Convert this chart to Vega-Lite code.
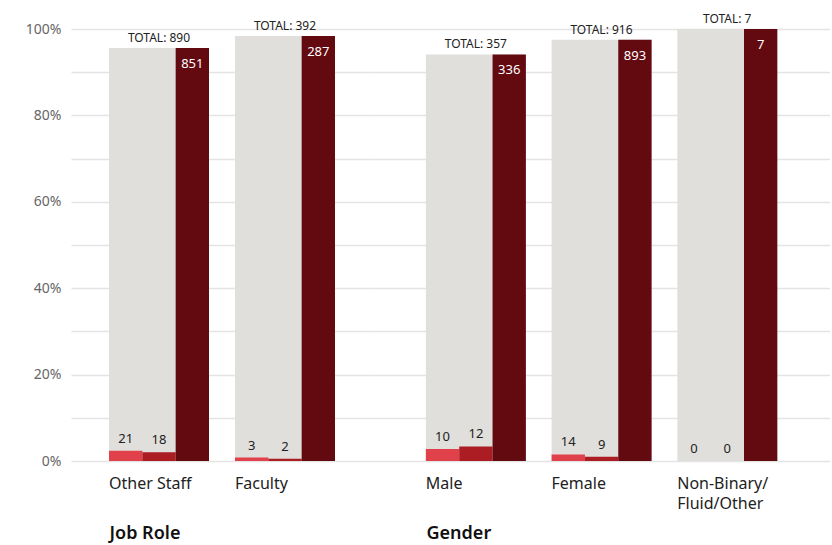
{
  "$schema": "https://vega.github.io/schema/vega-lite/v6.json",
  "padding": {"left": 25, "top": 13, "right": 0, "bottom": 5},
  "spacing": 0,
  "config": {
    "font": "Noto Sans",
    "view": {"stroke": null},
    "axis": {"gridColor": "#e4e4e4", "gridWidth": 1.5, "domain": false, "ticks": false, "tickSize": 0}
  },
  "datasets": {
    "bars": [
      {"group": "Job Role", "category": "Other Staff", "series": "s1", "value": 21, "pct": 0.0236},
      {"group": "Job Role", "category": "Other Staff", "series": "s2", "value": 18, "pct": 0.0202},
      {"group": "Job Role", "category": "Other Staff", "series": "s3", "value": 851, "pct": 0.9562},
      {"group": "Job Role", "category": "Faculty", "series": "s1", "value": 3, "pct": 0.008},
      {"group": "Job Role", "category": "Faculty", "series": "s2", "value": 2, "pct": 0.005},
      {"group": "Job Role", "category": "Faculty", "series": "s3", "value": 287, "pct": 0.984},
      {"group": "Gender", "category": "Male", "series": "s1", "value": 10, "pct": 0.028},
      {"group": "Gender", "category": "Male", "series": "s2", "value": 12, "pct": 0.0336},
      {"group": "Gender", "category": "Male", "series": "s3", "value": 336, "pct": 0.9412},
      {"group": "Gender", "category": "Female", "series": "s1", "value": 14, "pct": 0.0153},
      {"group": "Gender", "category": "Female", "series": "s2", "value": 9, "pct": 0.0098},
      {"group": "Gender", "category": "Female", "series": "s3", "value": 893, "pct": 0.9749},
      {"group": "Gender", "category": "Non-Binary/Fluid/Other", "series": "s1", "value": 0, "pct": 0},
      {"group": "Gender", "category": "Non-Binary/Fluid/Other", "series": "s2", "value": 0, "pct": 0},
      {"group": "Gender", "category": "Non-Binary/Fluid/Other", "series": "s3", "value": 7, "pct": 1.0}
    ],
    "totals": [
      {"group": "Job Role", "category": "Other Staff", "label": "TOTAL: 890", "pct": 0.9562},
      {"group": "Job Role", "category": "Faculty", "label": "TOTAL: 392", "pct": 0.984},
      {"group": "Gender", "category": "Male", "label": "TOTAL: 357", "pct": 0.9412},
      {"group": "Gender", "category": "Female", "label": "TOTAL: 916", "pct": 0.9749},
      {"group": "Gender", "category": "Non-Binary/Fluid/Other", "label": "TOTAL: 7", "pct": 1.0}
    ]
  },
  "hconcat": [
    {
      "width": 302,
      "height": 432,
      "encoding": {
        "x": {
          "field": "category", "type": "nominal", "sort": ["Other Staff", "Faculty"],
          "scale": {"paddingInner": 0.2063, "paddingOuter": 0.3016},
          "axis": {
            "title": "Job Role", "labelAngle": 0, "labelAlign": "left", "labelOffset": -50,
            "labelFontSize": 16, "labelColor": "#222222", "labelPadding": 14, "labelBaseline": "top",
            "titleFontSize": 18, "titleFontWeight": 600, "titleColor": "#111111",
            "titleAnchor": "start", "titleAlign": "left", "titleX": 38, "titleY": 72, "titleBaseline": "middle"
          }
        }
      },
      "layer": [
        {
          "data": {"name": "totals"},
          "transform": [{"filter": "datum.group == 'Job Role'"}],
          "mark": {"type": "bar", "color": "#e0dfdc"},
          "encoding": {
            "y": {
              "field": "pct", "type": "quantitative", "scale": {"domain": [0, 1]},
              "axis": {
                "title": null, "values": [0, 0.1, 0.2, 0.3, 0.4, 0.5, 0.6, 0.7, 0.8, 0.9, 1],
                "format": ".0%", "labelExpr": "round(datum.value*100) % 20 == 0 ? datum.label : ''",
                "labelFontSize": 14, "labelColor": "#666666", "labelPadding": 10
              }
            }
          }
        },
        {
          "data": {"name": "bars"},
          "transform": [{"filter": "datum.group == 'Job Role'"}],
          "mark": {"type": "bar"},
          "encoding": {
            "xOffset": {"field": "series", "type": "nominal", "scale": {"paddingInner": 0, "paddingOuter": 0}},
            "y": {"field": "pct", "type": "quantitative"},
            "color": {"field": "series", "type": "nominal", "legend": null,
              "scale": {"domain": ["s1", "s2", "s3"], "range": ["#e1414a", "#ab1d23", "#630910"]}}
          }
        },
        {
          "data": {"name": "bars"},
          "transform": [{"filter": "datum.group == 'Job Role' && datum.series != 's3'"}],
          "mark": {"type": "text", "baseline": "bottom", "dy": -5, "fontSize": 13, "color": "#222222"},
          "encoding": {
            "xOffset": {"field": "series", "type": "nominal", "scale": {"domain": ["s1", "s2", "s3"]}},
            "y": {"field": "pct", "type": "quantitative"},
            "text": {"field": "value", "type": "quantitative"}
          }
        },
        {
          "data": {"name": "bars"},
          "transform": [{"filter": "datum.group == 'Job Role' && datum.series == 's3'"}],
          "mark": {"type": "text", "baseline": "top", "dy": 10, "fontSize": 13, "color": "#ffffff"},
          "encoding": {
            "xOffset": {"field": "series", "type": "nominal", "scale": {"domain": ["s1", "s2", "s3"]}},
            "y": {"field": "pct", "type": "quantitative"},
            "text": {"field": "value", "type": "quantitative"}
          }
        },
        {
          "data": {"name": "totals"},
          "transform": [{"filter": "datum.group == 'Job Role'"}],
          "mark": {"type": "text", "baseline": "bottom", "dy": -3, "fontSize": 12, "color": "#222222"},
          "encoding": {
            "y": {"field": "pct", "type": "quantitative"},
            "text": {"field": "label", "type": "nominal"}
          }
        }
      ]
    },
    {
      "width": 457,
      "height": 432,
      "encoding": {
        "x": {
          "field": "category", "type": "nominal", "sort": ["Male", "Female", "Non-Binary/Fluid/Other"],
          "scale": {"paddingInner": 0.2063, "paddingOuter": 0.4206},
          "axis": {
            "title": "Gender", "labelAngle": 0, "labelAlign": "left", "labelOffset": -50,
            "labelExpr": "datum.value == 'Non-Binary/Fluid/Other' ? ['Non-Binary/', 'Fluid/Other'] : datum.label",
            "labelFontSize": 16, "labelColor": "#222222", "labelPadding": 14, "labelBaseline": "top", "labelLineHeight": 20,
            "titleFontSize": 18, "titleFontWeight": 600, "titleColor": "#111111",
            "titleAnchor": "start", "titleAlign": "left", "titleX": 53, "titleY": 72, "titleBaseline": "middle"
          }
        }
      },
      "layer": [
        {
          "data": {"name": "totals"},
          "transform": [{"filter": "datum.group == 'Gender'"}],
          "mark": {"type": "bar", "color": "#e0dfdc"},
          "encoding": {
            "y": {
              "field": "pct", "type": "quantitative", "scale": {"domain": [0, 1]},
              "axis": {
                "title": null, "values": [0, 0.1, 0.2, 0.3, 0.4, 0.5, 0.6, 0.7, 0.8, 0.9, 1],
                "labels": false
              }
            }
          }
        },
        {
          "data": {"name": "bars"},
          "transform": [{"filter": "datum.group == 'Gender'"}],
          "mark": {"type": "bar"},
          "encoding": {
            "xOffset": {"field": "series", "type": "nominal", "scale": {"paddingInner": 0, "paddingOuter": 0}},
            "y": {"field": "pct", "type": "quantitative"},
            "color": {"field": "series", "type": "nominal", "legend": null,
              "scale": {"domain": ["s1", "s2", "s3"], "range": ["#e1414a", "#ab1d23", "#630910"]}}
          }
        },
        {
          "data": {"name": "bars"},
          "transform": [{"filter": "datum.group == 'Gender' && datum.series != 's3'"}],
          "mark": {"type": "text", "baseline": "bottom", "dy": -5, "fontSize": 13, "color": "#222222"},
          "encoding": {
            "xOffset": {"field": "series", "type": "nominal", "scale": {"domain": ["s1", "s2", "s3"]}},
            "y": {"field": "pct", "type": "quantitative"},
            "text": {"field": "value", "type": "quantitative"}
          }
        },
        {
          "data": {"name": "bars"},
          "transform": [{"filter": "datum.group == 'Gender' && datum.series == 's3'"}],
          "mark": {"type": "text", "baseline": "top", "dy": 10, "fontSize": 13, "color": "#ffffff"},
          "encoding": {
            "xOffset": {"field": "series", "type": "nominal", "scale": {"domain": ["s1", "s2", "s3"]}},
            "y": {"field": "pct", "type": "quantitative"},
            "text": {"field": "value", "type": "quantitative"}
          }
        },
        {
          "data": {"name": "totals"},
          "transform": [{"filter": "datum.group == 'Gender'"}],
          "mark": {"type": "text", "baseline": "bottom", "dy": -3, "fontSize": 12, "color": "#222222"},
          "encoding": {
            "y": {"field": "pct", "type": "quantitative"},
            "text": {"field": "label", "type": "nominal"}
          }
        }
      ]
    }
  ]
}
